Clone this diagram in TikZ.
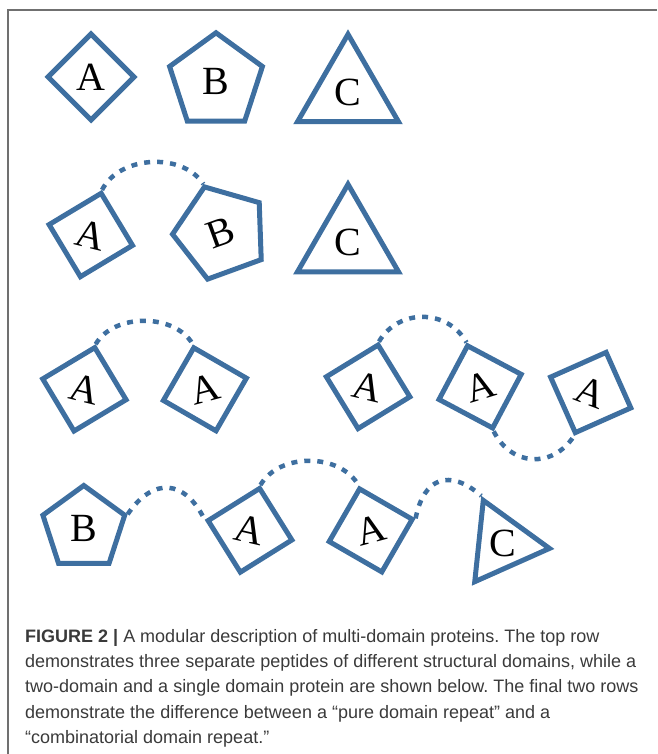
\documentclass[tikz,border=0pt]{standalone}
\usepackage{fontspec}
\setmainfont{Liberation Sans}
\newfontfamily\domfont{Liberation Serif}
\usetikzlibrary{shapes.geometric}

\definecolor{domblue}{RGB}{62,111,160}
\definecolor{framegray}{RGB}{112,112,112}
\definecolor{captext}{RGB}{58,58,58}

\frenchspacing

\begin{document}
\begin{tikzpicture}[
        x=1pt, y=-1pt,
        dom/.style={draw=domblue, line width=5pt, inner sep=0pt, font=\domfont\fontsize{40}{40}\selectfont},
        sq/.style={dom, diamond, aspect=1, minimum width=88pt, minimum height=88pt},
        pent/.style={dom, regular polygon, regular polygon sides=5, minimum size=#1},
        pent/.default=97pt,
        tri/.style={dom, regular polygon, regular polygon sides=3, minimum size=#1},
        tri/.default=116pt,
        link/.style={draw=domblue, line width=4.5pt, dash pattern=on 6pt off 7pt}
      ]

      \useasboundingbox (0,0) rectangle (657,754);

      % Frame
      \draw[framegray, line width=1.3pt] (657,10) -- (8,10) -- (8,754);

      % Separate peptides
      \node[sq] (sepA) at (91,77) {A};
      \node[pent=97.6pt] (sepB) at (216,81.6) {B};
      \node[tri=116.6pt] (sepC) at (348,92.6) {C};

      % Two-domain and single domain protein
      \node[sq, rotate=-14] (twoA) at (90.8,235) {A};
      \node[pent=97pt, rotate=20] (twoB) at (221,232.5) {B};
      \node[tri=116.6pt] (oneC) at (348,242.6) {C};

      % Pure domain repeats
      \node[sq, rotate=-14] (repA1) at (84.4,389.3) {A};
      \node[sq, rotate=15] (repA2) at (204.9,389.3) {A};
      \node[sq, rotate=-13.5] (repA3) at (368.1,386.8) {A};
      \node[sq, rotate=17] (repA4) at (480.1,386.9) {A};
      \node[sq, rotate=-21] (repA5) at (590.7,392.5) {A};

      % Combinatorial domain repeat
      \node[pent=86pt] (combB) at (83.8,528.5) {B};
      \node[sq, rotate=-13] (combA1) at (250,530.3) {A};
      \node[sq, rotate=15] (combA2) at (370.7,530.4) {A};
      \node[tri=94.4pt, shape border rotate=24] (combC) at (502.5,543.5) {C};

      % Linkers
      \draw[link] (twoA.north) to[bend left=60, looseness=0.97] (twoB.corner 1);
      \draw[link] (repA1.north) to[bend left=60, looseness=0.95] (repA2.north);
      \draw[link] (repA3.north) to[bend left=60, looseness=1.13] (repA4.north);
      \draw[link] (repA4.south) to[bend right=60, looseness=1.25] (repA5.south);
      \draw[link] (combB.corner 5) to[bend left=60, looseness=1.5] (combA1.west);
      \draw[link] (combA1.north) to[bend left=60, looseness=0.98] (combA2.north);
      \draw[link] (combA2.east) to[bend left=60, looseness=1.55] (combC.corner 1);

      % Caption
      \node[anchor=north west, align=left, inner sep=0pt, text=captext,
            font=\fontsize{18}{25.3}\selectfont] (caption) at (25,629)
        {\textbf{FIGURE 2 |} A modular description of multi-domain proteins. The top row\\
         demonstrates three separate peptides of different structural domains, while a\\
         two-domain and a single domain protein are shown below. The final two rows\\
         demonstrate the difference between a “pure domain repeat” and a\\
         “combinatorial domain repeat.”};

    \end{tikzpicture}
\end{document}
